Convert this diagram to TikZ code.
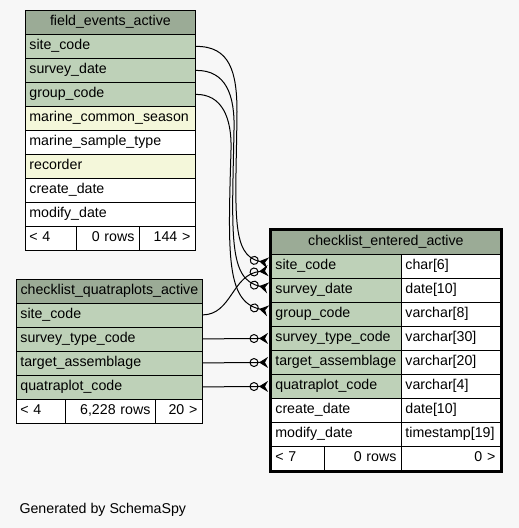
\documentclass[tikz,border=0pt]{standalone}
\usepackage{fontspec}
\setmainfont{Liberation Sans}
\usepackage{xcolor}
\usetikzlibrary{arrows.meta,calc}

\definecolor{bgpage}{HTML}{F7F7F7}
\definecolor{headcol}{HTML}{9BAB96}
\definecolor{keycol}{HTML}{BED1B8}
\definecolor{idxcol}{HTML}{F4F7DA}

\tikzset{
  cell/.style={draw=black, line width=0.8pt, anchor=north west, minimum height=24pt,
    inner ysep=0pt, inner xsep=4pt, text height=10.5pt, text depth=3.5pt,
    font=\fontsize{14.2pt}{16pt}\selectfont},
  lcell/.code={\pgfmathsetmacro\cellw{#1-8}\tikzset{cell, minimum width=#1pt, text width=\cellw pt, align=left}},
  rcell/.code={\pgfmathsetmacro\cellw{#1-10}\tikzset{cell, minimum width=#1pt, text width=\cellw pt, align=right}},
  hcell/.code={\pgfmathsetmacro\cellw{#1-8}\tikzset{cell, minimum width=#1pt, text width=\cellw pt, align=center, fill=headcol}},
  rel/.style={line width=1pt, shorten >=3pt,
    -{Circle[open,length=9pt,width=9pt,sep=0.5pt]Stealth[reversed,length=9pt,width=11pt,inset=3pt]}}
}

\begin{document}
\begin{tikzpicture}[x=1pt, y=-1pt]
        % page
        \fill [bgpage] (0,0) rectangle (519,528);
        \useasboundingbox (0,0) rectangle (519,528);

        % field_events_active
        \node [hcell=170] (fe-head) at (25,10) {field\_events\_active};
        \foreach \nm/\txt/\clr [count=\i from 0] in {site/site\_code/keycol, survey/survey\_date/keycol,
            group/group\_code/keycol, season/marine\_common\_season/idxcol, type/marine\_sample\_type/white,
            recorder/recorder/idxcol, create/create\_date/white, modify/modify\_date/white}
          \node [lcell=170, fill=\clr] (fe-\nm) at (25,34+24*\i) {\txt};
        \node [lcell=51, fill=white] (fe-parents) at (25,226) {< 4};
        \node [rcell=63, fill=white] (fe-rows) at (76,226) {0 rows};
        \node [rcell=56, fill=white] (fe-children) at (139,226) {144 >};

        % checklist_quatraplots_active
        \node [hcell=186] (qp-head) at (16,278.5) {checklist\_quatraplots\_active};
        \foreach \nm/\txt [count=\i from 0] in {site/site\_code, stc/survey\_type\_code,
            target/target\_assemblage, quatra/quatraplot\_code}
          \node [lcell=186, fill=keycol] (qp-\nm) at (16,302.5+24*\i) {\txt};
        \node [lcell=49, fill=white] (qp-parents) at (16,398.5) {< 4};
        \node [rcell=90, fill=white] (qp-rows) at (65,398.5) {6,228 rows};
        \node [rcell=47, fill=white] (qp-children) at (155,398.5) {20 >};

        % checklist_entered_active
        \node [hcell=229] (ce-head) at (271,230) {checklist\_entered\_active};
        \foreach \nm/\txt/\clr/\typ [count=\i from 0] in {site/site\_code/keycol/char[6],
            survey/survey\_date/keycol/date[10], group/group\_code/keycol/varchar[8],
            stc/survey\_type\_code/keycol/varchar[30], target/target\_assemblage/keycol/varchar[20],
            quatra/quatraplot\_code/keycol/varchar[4], create/create\_date/white/date[10],
            modify/modify\_date/white/timestamp[19]}
          {
          \node [lcell=130, fill=\clr] (ce-\nm) at (271,254+24*\i) {\txt};
          \node [lcell=99, fill=white] (ce-\nm-type) at (401,254+24*\i) {\typ};
          }
        \node [lcell=53, fill=white] (ce-parents) at (271,446) {< 7};
        \node [rcell=77, fill=white] (ce-rows) at (324,446) {0 rows};
        \node [rcell=99, fill=white] (ce-children) at (401,446) {0 >};

        % relationships
        \draw [rel] (fe-site.east) .. controls (230,46) and (237,72) .. (237,112)
          .. controls (236,210) and (230,256) .. ($(ce-site.west)+(0,-3)$);
        \draw [rel] (fe-survey.east) .. controls (226,70) and (235,95) .. (234,130)
          .. controls (232,235) and (228,280) .. ($(ce-survey.west)+(0,-2)$);
        \draw [rel] (fe-group.east) .. controls (222,94) and (232,118) .. (231,150)
          .. controls (228,255) and (226,302) .. ($(ce-group.west)+(0,-3)$);
        \draw [rel] (qp-site.east) .. controls (232,314.5) and (232,274) .. ($(ce-site.west)+(0,4)$);
        \draw [rel] (qp-stc.east) -- (ce-stc.west);
        \draw [rel] (qp-target.east) -- (ce-target.west);
        \draw [rel] (qp-quatra.east) -- (ce-quatra.west);

        % focus frame
        \draw [line width=2.6pt] (ce-head.north west) ++(-0.5,-0.5) rectangle ($(ce-children.south east)+(0.5,0.5)$);

        \node [anchor=base west, font=\fontsize{14.2pt}{16pt}\selectfont] (credit) at (16,513) {Generated by SchemaSpy};
    \end{tikzpicture}
\end{document}
